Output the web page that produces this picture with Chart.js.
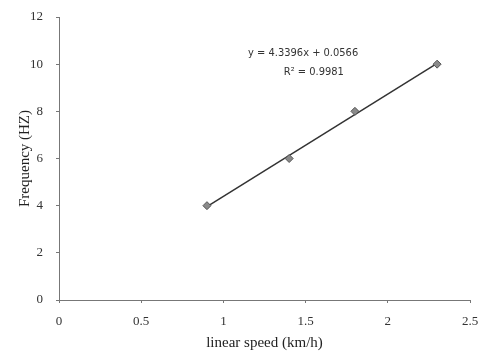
<!DOCTYPE html>
<html lang="en">
<head>
    <meta charset="UTF-8">
    <title>Frequency vs linear speed</title>
    <script src="https://cdn.jsdelivr.net/npm/chart.js"></script>
    <style>
        html, body {
            margin: 0;
            padding: 0;
            background: #fff;
        }
        #chartContainer {
            position: relative;
            width: 479px;
            height: 352px;
        }
    </style>
</head>
<body>
    <div id="chartContainer">
        <canvas id="speedChart"></canvas>
    </div>

    <script>
        // measured points
        const speeds = [0.9, 1.4, 1.8, 2.3];
        const frequencies = [4, 6, 8, 10];

        // linear trendline, as printed on the chart
        const slope = 4.3396;
        const intercept = 0.0566;
        const rSquared = 0.9981;

        const xTicks = [0, 0.5, 1, 1.5, 2, 2.5];
        const yTicks = [0, 2, 4, 6, 8, 10, 12];

        const points = speeds.map((x, i) => ({ x: x, y: frequencies[i] }));
        const xMin = Math.min(...speeds);
        const xMax = Math.max(...speeds);
        const trend = [
            { x: xMin, y: slope * xMin + intercept },
            { x: xMax, y: slope * xMax + intercept }
        ];

        const serif = '"Liberation Serif", "DejaVu Serif", serif';
        const narrow = '"Liberation Sans Narrow", "DejaVu Sans Condensed", sans-serif';

        // trendline equation text
        const equationLabel = {
            id: 'equationLabel',
            afterDraw(chart) {
                const ctx = chart.ctx;
                const xs = chart.scales.x;
                const ys = chart.scales.y;
                ctx.save();
                ctx.fillStyle = '#333';
                ctx.font = '11px ' + narrow;
                ctx.textAlign = 'center';
                ctx.textBaseline = 'middle';
                const sign = intercept >= 0 ? '+' : '-';
                ctx.fillText('y = ' + slope.toFixed(4) + 'x ' + sign + ' ' + Math.abs(intercept).toFixed(4),
                    xs.getPixelForValue(1.485), ys.getPixelForValue(10.48));
                ctx.fillText('R\u00b2 = ' + rSquared.toFixed(4),
                    xs.getPixelForValue(1.55), ys.getPixelForValue(9.68));
                ctx.restore();
            }
        };

        const ctx = document.getElementById('speedChart').getContext('2d');
        new Chart(ctx, {
            type: 'scatter',
            data: {
                datasets: [
                    {
                        label: 'data',
                        data: points,
                        pointStyle: 'rectRot',
                        pointRadius: 4,
                        backgroundColor: '#8a8a8a',
                        borderColor: '#555',
                        borderWidth: 1,
                        order: 0
                    },
                    {
                        label: 'trend',
                        type: 'line',
                        data: trend,
                        borderColor: '#333',
                        borderWidth: 1.5,
                        pointRadius: 0,
                        fill: false,
                        order: 1
                    }
                ]
            },
            options: {
                responsive: true,
                maintainAspectRatio: false,
                animation: false,
                layout: {
                    padding: { top: 17, right: 9, left: 16, bottom: 0 }
                },
                plugins: {
                    legend: { display: false },
                    tooltip: { enabled: false }
                },
                scales: {
                    x: {
                        type: 'linear',
                        min: 0,
                        max: 2.5,
                        afterBuildTicks: scale => {
                            scale.ticks = xTicks.map(v => ({ value: v }));
                        },
                        afterFit: scale => {
                            scale.height = 52;
                            scale.paddingLeft = 0;
                            scale.paddingRight = 0;
                        },
                        border: {
                            display: true,
                            color: '#777',
                            width: 1,
                            dash: [2, 2]
                        },
                        grid: {
                            display: true,
                            drawOnChartArea: false,
                            drawTicks: true,
                            tickLength: 3,
                            color: '#777'
                        },
                        ticks: {
                            color: '#333',
                            padding: 11,
                            maxRotation: 0,
                            callback: v => String(v),
                            font: { family: serif, size: 13 }
                        },
                        title: {
                            display: true,
                            text: 'linear speed (km/h)',
                            color: '#222',
                            padding: { top: 0, bottom: 0 },
                            font: { family: serif, size: 15 }
                        }
                    },
                    y: {
                        type: 'linear',
                        min: 0,
                        max: 12,
                        afterBuildTicks: scale => {
                            scale.ticks = yTicks.map(v => ({ value: v }));
                        },
                        afterFit: scale => {
                            scale.width = 43;
                            scale.paddingTop = 0;
                            scale.paddingBottom = 0;
                        },
                        border: {
                            display: true,
                            color: '#777',
                            width: 1,
                            dash: [2, 2]
                        },
                        grid: {
                            display: true,
                            drawOnChartArea: false,
                            drawTicks: true,
                            tickLength: 3,
                            color: '#777'
                        },
                        ticks: {
                            color: '#333',
                            padding: 13,
                            callback: v => String(v),
                            font: { family: serif, size: 13 }
                        },
                        title: {
                            display: true,
                            text: 'Frequency (HZ)',
                            color: '#222',
                            padding: { top: 0, bottom: 0 },
                            font: { family: serif, size: 15 }
                        }
                    }
                }
            },
            plugins: [equationLabel]
        });
    </script>
</body>
</html>
